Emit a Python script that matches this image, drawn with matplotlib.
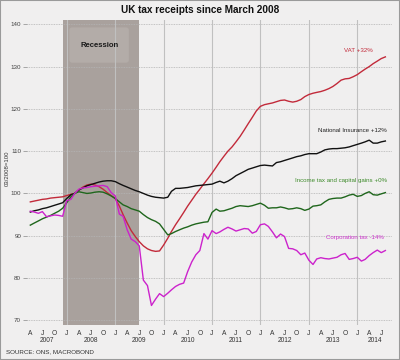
import numpy as np
import pandas as pd
import matplotlib
matplotlib.use('Agg')
import matplotlib.pyplot as plt
import matplotlib.dates as mdates
import matplotlib.transforms as mtrans
from matplotlib.patches import Rectangle, FancyBboxPatch

plt.rcParams['font.family'] = ['Liberation Sans', 'DejaVu Sans']

# ---------------- data (index, 03/2008 = 100), monthly Apr 2007 .. Aug 2014
months = pd.date_range('2007-04-01', periods=89, freq='MS')

vat = [98.0, 98.2, 98.4, 98.6, 98.7, 98.9, 99.0, 99.1, 99.2,
       99.5, 99.8, 100.0, 100.8, 101.5, 102.0, 102.2, 102.0, 101.6, 101.0, 100.2, 99.5,
       98.8, 97.0, 95.0, 93.0, 91.2, 89.8, 88.6, 87.6, 86.9, 86.5, 86.3, 86.4,
       87.8, 89.4, 91.0, 92.6, 94.0, 95.5, 97.0, 98.4, 99.8, 101.0, 102.3, 103.5,
       104.8, 106.2, 107.5, 108.8, 110.0, 111.0, 112.2, 113.5, 115.0, 116.5, 118.0, 119.5,
       120.6, 121.0, 121.2, 121.4, 121.7, 122.0, 122.1, 121.8, 121.6, 121.8, 122.2, 122.9,
       123.4, 123.7, 123.9, 124.1, 124.4, 124.8, 125.3, 126.0, 126.8, 127.1, 127.2, 127.6,
       128.1, 128.8, 129.4, 130.0, 130.7, 131.3, 131.9, 132.3]

national_insurance = [95.6, 95.9, 96.1, 96.4, 96.6, 96.9, 97.2, 97.5, 97.8,
       98.8, 99.7, 100.0, 100.8, 101.3, 101.8, 102.1, 102.4, 102.7, 102.9, 103.0, 103.0,
       102.8, 102.3, 101.9, 101.5, 101.1, 100.7, 100.4, 100.0, 99.6, 99.3, 99.1, 99.0,
       98.9, 99.1, 100.5, 101.2, 101.2, 101.3, 101.4, 101.6, 101.8, 101.9, 102.0, 102.1,
       102.2, 102.6, 102.9, 102.5, 102.9, 103.5, 104.2, 104.7, 105.2, 105.7, 106.0, 106.3,
       106.6, 106.7, 106.6, 106.5, 107.3, 107.5, 107.8, 108.1, 108.4, 108.7, 108.9, 109.2,
       109.4, 109.4, 109.4, 109.8, 110.3, 110.5, 110.6, 110.6, 110.7, 110.8, 111.0, 111.3,
       111.6, 111.9, 112.2, 112.6, 111.9, 111.9, 112.2, 112.4]

income_tax = [92.5, 93.0, 93.5, 94.0, 94.4, 94.8, 95.3, 95.8, 96.5,
       97.8, 99.2, 100.0, 100.4, 100.2, 100.0, 100.1, 100.3, 100.4, 100.3, 99.9, 99.4,
       98.8, 98.0, 97.3, 96.9, 96.4, 96.1, 95.8, 95.0, 94.3, 93.8, 93.4, 92.8,
       91.5, 90.2, 90.5, 91.0, 91.4, 91.8, 92.1, 92.5, 92.8, 93.0, 93.2, 93.3,
       95.5, 96.3, 95.8, 95.9, 96.2, 96.5, 96.9, 97.1, 97.0, 96.9, 97.1, 97.4,
       97.7, 97.2, 96.5, 96.6, 96.6, 96.8, 96.6, 96.3, 96.4, 96.6, 96.4, 96.0,
       96.3, 97.0, 97.1, 97.3, 98.0, 98.6, 98.8, 98.9, 98.9, 99.2, 99.6, 99.8,
       99.3, 99.5, 100.0, 100.4, 99.7, 99.6, 99.9, 100.2]

corporation_tax = [95.8, 95.6, 95.3, 95.7, 94.5, 94.7, 94.9, 94.8, 94.6,
       98.3, 98.6, 100.0, 101.0, 101.3, 101.4, 101.6, 101.7, 101.8, 101.9, 101.6, 100.2,
       99.4, 95.1, 94.6, 91.4, 89.2, 88.6, 87.6, 79.5, 78.2, 73.5, 75.0, 76.3,
       75.6, 76.4, 77.2, 78.0, 78.5, 78.8, 81.5, 83.8, 85.5, 86.5, 90.5, 89.2,
       91.2, 90.5, 90.9, 91.5, 92.0, 91.6, 91.1, 91.4, 91.7, 91.6, 90.6, 91.0,
       92.6, 92.8, 92.2, 90.9, 89.5, 90.4, 89.8, 87.0, 86.9, 86.5, 85.5, 85.9,
       84.2, 83.2, 84.5, 84.8, 84.6, 84.5, 84.7, 84.9, 85.5, 85.8, 84.4, 84.6,
       84.9, 84.0, 84.4, 85.3, 86.0, 86.6, 86.0, 86.5]

series_labels = ['VAT +32%', 'National Insurance +12%',
                 'Income tax and capital gains +0%', 'Corporation tax -14%']
recession_start, recession_end = '2007-12-01', '2009-07-01'
yticks = [70, 80, 90, 100, 110, 120, 130, 140]
month_letters = {1: 'J', 4: 'A', 7: 'J', 10: 'O'}
years = list(range(2007, 2015))

# ---------------- styling
bg = '#f0efef'
line_colors = ['#c22a3a', '#111111', '#1f661c', '#cc22cc']
text_colors = ['#c22a3a', '#222222', '#3d8a2a', '#cc33cc']

fig = plt.figure(figsize=(4, 3.6), dpi=100)
fig.patch.set_facecolor(bg)
ax = fig.add_axes([0.0675, 0.0986, 0.9125, 0.8456])
ax.set_facecolor(bg)

xmin, xmax = pd.Timestamp('2007-03-07'), pd.Timestamp('2014-09-20')
ax.set_xlim(xmin, xmax)
ax.set_ylim(69.0, 141.0)

# recession shading + label box
ax.axvspan(pd.Timestamp(recession_start), pd.Timestamp(recession_end),
           color='#a9a19d', zorder=0.5, lw=0)
box = FancyBboxPatch((0.116, 0.860), 0.163, 0.116, transform=ax.transAxes,
                     boxstyle='round,pad=0,rounding_size=0.008',
                     facecolor='#b3aca8', edgecolor='none', zorder=0.6)
ax.add_patch(box)
ax.text(0.198, 0.917, 'Recession', transform=ax.transAxes, ha='center', va='center',
        fontsize=5.6, fontweight='bold', color='#1a1a1a', zorder=5)

# grid
for y in yticks:
    ax.axhline(y, color='#b4b4b4', lw=0.6, ls=(0, (1, 1)), zorder=0.8)
for yr in range(2008, 2015):
    ax.axvline(pd.Timestamp(f'{yr}-01-01'), color='#c0c0c0', lw=0.8, zorder=0.8)

# series
for vals, c in zip([vat, national_insurance, income_tax, corporation_tax], line_colors):
    ax.plot(months, vals, color=c, lw=1.0, zorder=3)

# series labels
label_pos = [(0.948, 0.899), (0.986, 0.638), (0.986, 0.472), (0.978, 0.285)]
for (lx, ly), lab, c in zip(label_pos, series_labels, text_colors):
    ax.text(lx, ly, lab, transform=ax.transAxes, ha='right', va='center',
            fontsize=4.4, color=c, zorder=5)

# axes
for s in ax.spines.values():
    s.set_visible(False)
ax.set_yticks(yticks)
ax.set_yticklabels([str(v) for v in yticks])
ax.tick_params(axis='y', length=3, width=0.5, color='#888888', pad=1.2,
               labelsize=4.5, labelcolor='#444444')

qticks = [d for d in pd.date_range('2007-01-01', '2014-12-01', freq='MS')
          if d.month in month_letters and xmin <= d <= xmax]
ax.set_xticks(qticks)
ax.set_xticklabels([month_letters[d.month] for d in qticks])
ax.tick_params(axis='x', length=0, pad=4.0, labelsize=4.8, labelcolor='#333333')

trans = mtrans.blended_transform_factory(ax.transData, ax.transAxes)
for yr in years:
    a = max(pd.Timestamp(f'{yr}-01-01'), xmin)
    b = min(pd.Timestamp(f'{yr + 1}-01-01'), xmax)
    mid = a + (b - a) / 2
    ax.text(mid, -0.053, str(yr), transform=trans, ha='center', va='center',
            fontsize=4.8, color='#333333')

# titles and notes
fig.text(0.5, 0.972, 'UK tax receipts since March 2008', ha='center', va='center',
         fontsize=7.2, fontweight='bold', color='#111111')
fig.text(0.018, 0.533, '03/2008=100', rotation=90, ha='center', va='center',
         fontsize=4.3, color='#333333')
fig.text(0.015, 0.023, 'SOURCE: ONS, MACROBOND', ha='left', va='center',
         fontsize=4.5, color='#333333')

# outer frame
fig.add_artist(Rectangle((0, 0), 1, 1, transform=fig.transFigure, fill=False,
                         edgecolor='#9a9a9a', lw=1.5))

fig.savefig('out.png', dpi=100, facecolor=bg)
